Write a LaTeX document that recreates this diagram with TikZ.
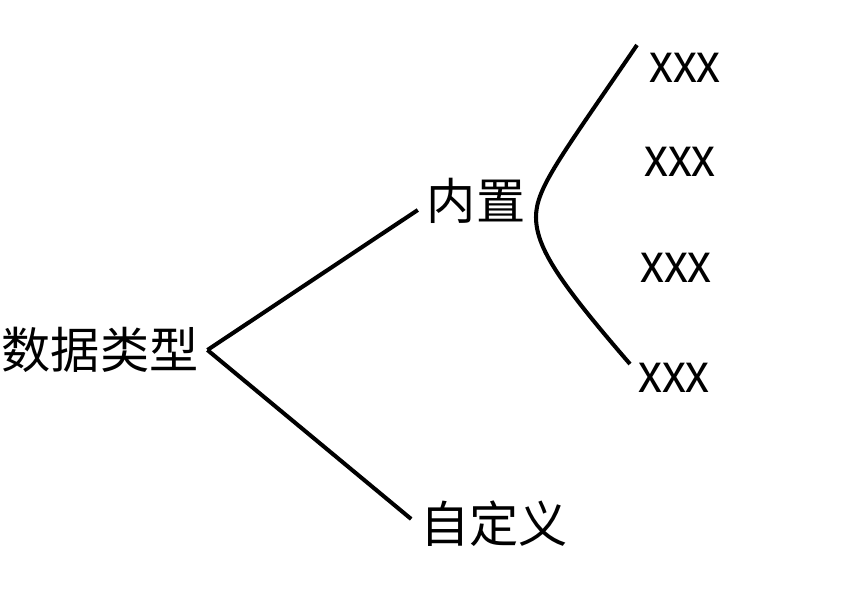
\documentclass[tikz,border=0pt]{standalone}
\usepackage{fontspec}
\setmainfont{Liberation Sans}
\newfontfamily\cjk{Noto Sans CJK SC}
\usetikzlibrary{calc}

\begin{document}
\begin{tikzpicture}[line width=1.15pt,
  cjklabel/.style={font=\cjk\fontsize{14}{16}\selectfont,inner sep=0.07cm},
  leaf/.style={font=\fontsize{15.8}{18}\selectfont,inner sep=0pt}]
  \useasboundingbox (0,0) rectangle (8.46,6.08);
  \node[cjklabel] (root) at (1.00,2.58) {数据类型};
  \node[cjklabel] (builtin) at (4.76,4.07) {内置};
  \node[cjklabel] (custom)  at (4.94,0.84) {自定义};
  % bracket in front of the leaves
  \coordinate (btop) at (6.37,5.63);
  \coordinate (bmid) at (5.36,3.91);
  \coordinate (bbot) at (6.30,2.44);
  \node[leaf] (x1) at (6.85,5.40) {\scalebox{0.86}[1]{xxx}};
  \node[leaf] (x2) at (6.80,4.46) {\scalebox{0.86}[1]{xxx}};
  \node[leaf] (x3) at (6.76,3.40) {\scalebox{0.86}[1]{xxx}};
  \node[leaf] (x4) at (6.74,2.30) {\scalebox{0.86}[1]{xxx}};
  \draw (root.east) -- ([yshift=-0.09cm]builtin.west);
  \draw (root.east) -- ([yshift=0.05cm]custom.west);
  \draw (btop) .. controls (5.60,4.50) and (5.36,4.20) .. (bmid)
               .. controls (5.36,3.60) and (5.60,3.25) .. (bbot);
\end{tikzpicture}
\end{document}
